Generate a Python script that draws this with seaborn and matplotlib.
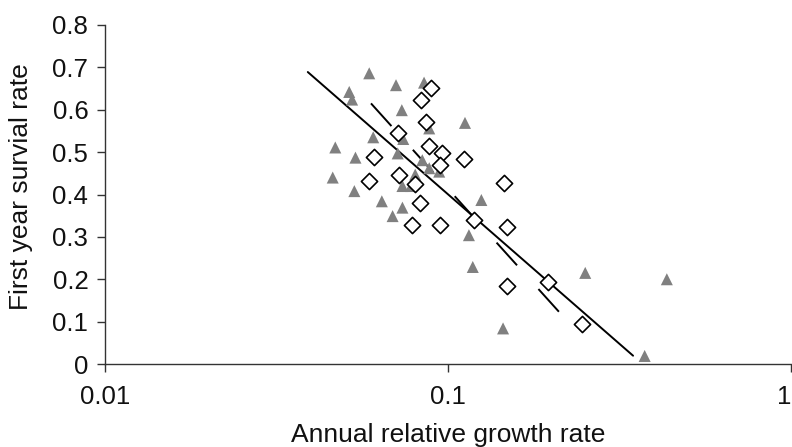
import matplotlib
matplotlib.use("Agg")
import matplotlib.pyplot as plt
import seaborn as sns
import numpy as np

# Triangles (filled grey)
tri_x = [0.0589, 0.0705, 0.0851, 0.0515, 0.0525, 0.0733, 0.112, 0.0881, 0.0740, 0.0605,
         0.0469, 0.0537, 0.0713, 0.0841, 0.0881, 0.0942, 0.0461, 0.0802, 0.0736, 0.0780,
         0.0533, 0.0641, 0.0736, 0.0689, 0.125, 0.115, 0.118, 0.1446, 0.251, 0.434, 0.374]
tri_y = [0.686, 0.658, 0.664, 0.642, 0.624, 0.599, 0.569, 0.556, 0.531, 0.535,
         0.511, 0.487, 0.497, 0.481, 0.462, 0.454, 0.440, 0.447, 0.420, 0.420,
         0.408, 0.384, 0.369, 0.349, 0.387, 0.304, 0.229, 0.084, 0.215, 0.200, 0.019]

# Diamonds (open)
dia_x = [0.0892, 0.0834, 0.0861, 0.0713, 0.0879, 0.0957, 0.0610, 0.1114, 0.0946, 0.0589,
         0.0718, 0.0800, 0.1456, 0.0829, 0.0784, 0.0944, 0.1192, 0.1486, 0.1486, 0.196, 0.245]
dia_y = [0.652, 0.624, 0.571, 0.545, 0.514, 0.499, 0.489, 0.483, 0.469, 0.432,
         0.445, 0.424, 0.426, 0.381, 0.327, 0.329, 0.341, 0.323, 0.184, 0.194, 0.094]

# Fitted lines (end points)
solid_x = [0.039, 0.346]
solid_y = [0.689, 0.0196]
dash_x = [0.0596, 0.216]
dash_y = [0.615, 0.113]

xticks = [0.01, 0.1, 1]
xtick_labels = ["0.01", "0.1", "1"]
yticks = [0, 0.1, 0.2, 0.3, 0.4, 0.5, 0.6, 0.7, 0.8]
ytick_labels = ["0", "0.1", "0.2", "0.3", "0.4", "0.5", "0.6", "0.7", "0.8"]

sns.set_style("white")
plt.rcParams['font.family'] = ['Liberation Sans', 'DejaVu Sans']
plt.rcParams['lines.scale_dashes'] = False

fig = plt.figure(figsize=(7.92, 4.47), dpi=100)
ax_w = 1 - 105/792 - 0.001
ax = fig.add_axes([105/792, 1 - 364/447, ax_w, (364 - 25)/447])

sns.lineplot(x=solid_x, y=solid_y, color='black', linewidth=1.4, ax=ax, sort=False)
sns.lineplot(x=dash_x, y=dash_y, color='black', linewidth=1.4, ax=ax, sort=False,
             linestyle=(0, (22, 23)))
sns.scatterplot(x=tri_x, y=tri_y, marker='^', color='#808080', edgecolor='none',
                s=75, ax=ax, zorder=3)
sns.scatterplot(x=dia_x, y=dia_y, marker='D', color='white', edgecolor='black',
                linewidth=1.2, s=68, ax=ax, zorder=4)

ax.set_xscale('log')
ax.set_xlim(0.01, 1)
ax.set_ylim(0, 0.8)
ax.set_xticks(xticks)
ax.set_xticklabels(xtick_labels)
ax.set_yticks(yticks)
ax.set_yticklabels(ytick_labels)
ax.xaxis.set_minor_locator(matplotlib.ticker.NullLocator())

for s in ['top', 'right']:
    ax.spines[s].set_visible(False)
for s in ['left', 'bottom']:
    ax.spines[s].set_color('#333333')
    ax.spines[s].set_linewidth(1.0)

ax.tick_params(axis='both', which='major', direction='out', length=6, width=1,
               color='#333333', labelsize=18.5, pad=6, labelcolor='#111111')
ax.tick_params(axis='x', pad=9)
ax.tick_params(axis='y', left=True)
ax.tick_params(axis='x', bottom=True)
ax.get_xticklabels()[-1].set_horizontalalignment('right')

ax.set_xlabel("Annual relative growth rate", fontsize=19, color='#111111')
ax.set_ylabel("First year survial rate", fontsize=19, color='#111111')
ax.xaxis.set_label_coords(0.5, (364 - 423) / 339)
ax.yaxis.set_label_coords((33 - 105) / (ax_w * 792), 0.524)

fig.savefig("out.png", dpi=100)
